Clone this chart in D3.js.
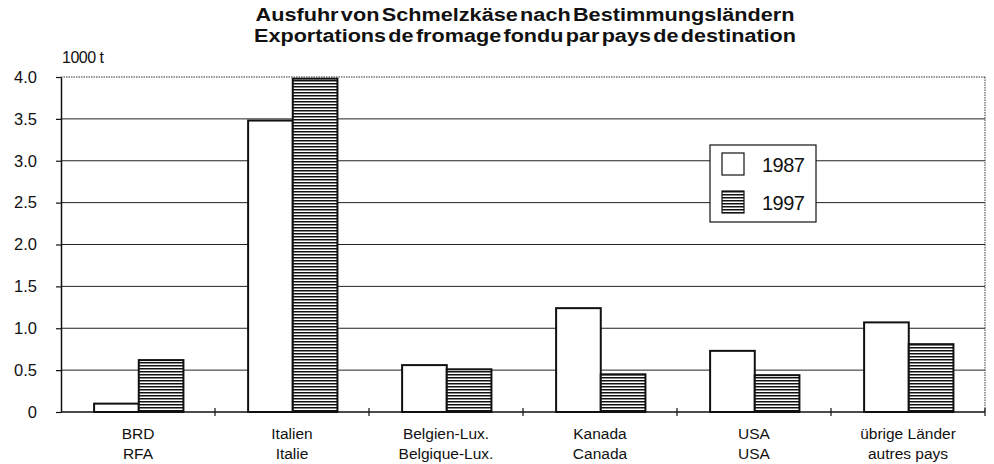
<!DOCTYPE html>
<html>
<head>
<meta charset="utf-8">
<script src="https://cdn.jsdelivr.net/npm/d3@7"></script>
<style>
  html, body { margin: 0; padding: 0; background: #fff; }
  svg { display: block; font-family: "Liberation Sans", Arial, sans-serif; }
</style>
</head>
<body>
<svg id="chart" width="994" height="464"></svg>
<script>
// Export of processed cheese by destination (1000 t)
const categoriesDe = ["BRD", "Italien", "Belgien-Lux.", "Kanada", "USA", "übrige Länder"];
const categoriesFr = ["RFA", "Italie", "Belgique-Lux.", "Canada", "USA", "autres pays"];
const series = ["1987", "1997"];
const values1987 = [0.10, 3.48, 0.56, 1.24, 0.73, 1.07];
const values1997 = [0.62, 3.98, 0.51, 0.45, 0.44, 0.81];
const yTicks = [0, 0.5, 1.0, 1.5, 2.0, 2.5, 3.0, 3.5, 4.0];
const titleLines = [
  "Ausfuhr von Schmelzkäse nach Bestimmungsländern",
  "Exportations de fromage fondu par pays de destination"
];
const titleWidths = [539, 542];
const unitLabel = "1000 t";

const svg = d3.select("#chart");
const margin = { left: 61, right: 9, top: 77, bottom: 52 };
const W = 994, H = 464;
const innerW = W - margin.left - margin.right;
const innerH = H - margin.top - margin.bottom;

// Horizontal hatch for the 1997 series
const defs = svg.append("defs");
const pat = defs.append("pattern")
  .attr("id", "hatch")
  .attr("patternUnits", "userSpaceOnUse")
  .attr("width", 6).attr("height", 3);
pat.append("rect").attr("width", 6).attr("height", 3).attr("fill", "#fff");
pat.append("rect").attr("y", 0).attr("width", 6).attr("height", 1.5).attr("fill", "#111");

const g = svg.append("g").attr("transform", `translate(${margin.left},${margin.top})`);

const x0 = d3.scaleBand().domain(d3.range(categoriesDe.length)).range([0, innerW]);
const x1 = d3.scaleBand().domain(series).range([x0.bandwidth() * 0.215, x0.bandwidth() * 0.795]);
const y = d3.scaleLinear().domain([0, 4]).range([innerH, 0]);

// Gridlines
g.append("g").selectAll("line")
  .data(yTicks.filter(t => t > 0 && t < 4))
  .join("line")
  .attr("x1", 0).attr("x2", innerW)
  .attr("y1", d => y(d)).attr("y2", d => y(d))
  .attr("stroke", "#222").attr("stroke-width", 1);

// Dotted frame on top and right
g.append("line").attr("x1", 0).attr("x2", innerW).attr("y1", y(4)).attr("y2", y(4))
  .attr("stroke", "#333").attr("stroke-width", 1).attr("stroke-dasharray", "1.5,1");
g.append("line").attr("x1", innerW).attr("x2", innerW).attr("y1", y(4)).attr("y2", y(0))
  .attr("stroke", "#333").attr("stroke-width", 1).attr("stroke-dasharray", "1.5,1");

// Bars
const rows = categoriesDe.map((c, i) => ({ i, vals: [values1987[i], values1997[i]] }));
const grp = g.append("g").selectAll("g").data(rows).join("g")
  .attr("transform", d => `translate(${x0(d.i)},0)`);
grp.selectAll("rect")
  .data(d => d.vals.map((v, k) => ({ key: series[k], v })))
  .join("rect")
  .attr("x", d => x1(d.key))
  .attr("y", d => y(d.v))
  .attr("width", x1.bandwidth())
  .attr("height", d => y(0) - y(d.v))
  .attr("fill", d => d.key === "1997" ? "url(#hatch)" : "#fff")
  .attr("stroke", "#111")
  .attr("stroke-width", 2);

// Y axis
const yAxis = g.append("g").call(d3.axisLeft(y).tickValues(yTicks).tickSize(5).tickSizeOuter(0)
  .tickFormat(d => d === 0 ? "0" : d3.format(".1f")(d)));
yAxis.select(".domain").attr("stroke", "#111").attr("stroke-width", 1.5);
yAxis.selectAll(".tick line").attr("stroke", "#111").attr("stroke-width", 1.2);
yAxis.selectAll(".tick text").attr("x", -24).attr("font-size", 16.5)
  .attr("font-family", "Liberation Sans, Arial, sans-serif").attr("fill", "#111");

// X axis baseline with category separators crossing the line
const xAxis = g.append("g").attr("transform", `translate(0,${innerH})`);
xAxis.append("line").attr("x1", 0).attr("x2", innerW).attr("stroke", "#111").attr("stroke-width", 1.5);
xAxis.selectAll("line.sep").data(d3.range(1, categoriesDe.length + 1)).join("line")
  .attr("class", "sep")
  .attr("x1", d => d * x0.step()).attr("x2", d => d * x0.step())
  .attr("y1", -4).attr("y2", 4)
  .attr("stroke", "#111").attr("stroke-width", 1.2);
const lbl = xAxis.selectAll("text.cat").data(rows).join("text")
  .attr("class", "cat")
  .attr("text-anchor", "middle")
  .attr("font-size", 15.5)
  .attr("fill", "#111");
lbl.append("tspan").attr("x", d => x0(d.i) + x0.bandwidth() / 2).attr("y", 27).text(d => categoriesDe[d.i]);
lbl.append("tspan").attr("x", d => x0(d.i) + x0.bandwidth() / 2).attr("y", 47).text(d => categoriesFr[d.i]);

// Unit label
svg.append("text").attr("x", 62).attr("y", 63).attr("font-size", 16).attr("fill", "#111")
  .attr("letter-spacing", -0.5).text(unitLabel);

// Title
svg.selectAll("text.title").data(titleLines).join("text")
  .attr("class", "title")
  .attr("x", (d, i) => 525 - titleWidths[i] / 2).attr("y", (d, i) => 21 + i * 21)
  .attr("textLength", (d, i) => titleWidths[i])
  .attr("lengthAdjust", "spacingAndGlyphs")
  .attr("word-spacing", -3)
  .attr("font-size", 17.5).attr("font-weight", "bold").attr("fill", "#111")
  .text(d => d);

// Legend
const lg = svg.append("g").attr("transform", "translate(710,145)");
lg.append("rect").attr("width", 106).attr("height", 77).attr("fill", "#fff")
  .attr("stroke", "#111").attr("stroke-width", 1.2);
const li = lg.selectAll("g").data(series).join("g")
  .attr("transform", (d, i) => `translate(12,${8 + i * 38})`);
li.append("rect").attr("width", 22).attr("height", 22)
  .attr("fill", d => d === "1997" ? "url(#hatch)" : "#fff")
  .attr("stroke", "#111").attr("stroke-width", 1.2);
li.append("text").attr("x", 40).attr("y", 19).attr("font-size", 20).attr("fill", "#111")
  .attr("letter-spacing", -0.5).text(d => d);
</script>
</body>
</html>
